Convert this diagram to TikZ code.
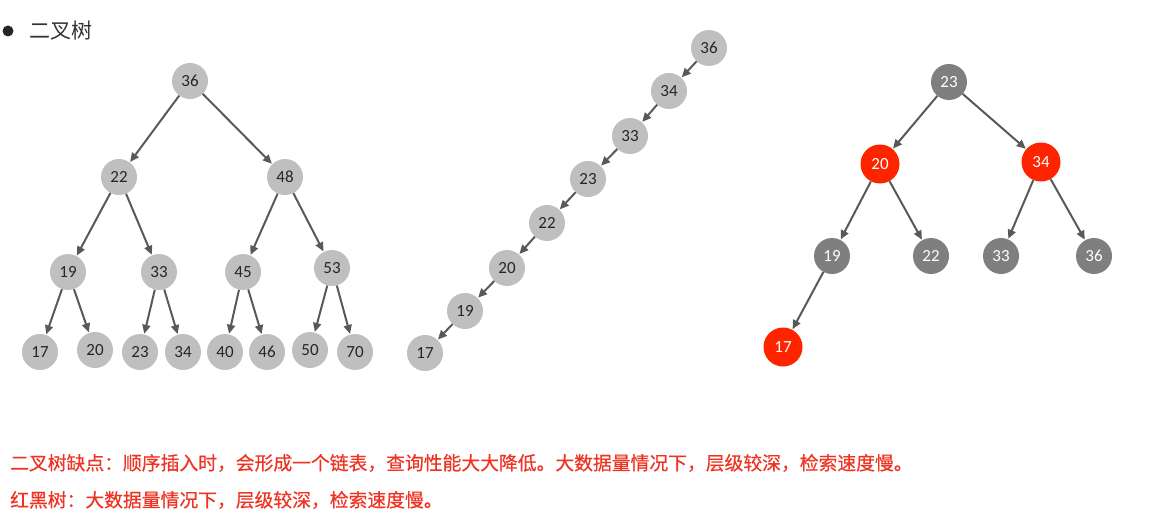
\documentclass[tikz,border=0pt]{standalone}
\usepackage{fontspec}
\setmainfont{Carlito}
\newfontfamily\cjk{Noto Sans CJK SC}
\newfontfamily\cjkb[FakeBold=0.5]{Noto Sans CJK SC}
\usetikzlibrary{arrows.meta}
\definecolor{lgray}{HTML}{BFBFBF}
\definecolor{dgray}{HTML}{7F7F7F}
\definecolor{nred}{HTML}{FF2400}
\definecolor{edgec}{HTML}{595959}
\definecolor{txtred}{HTML}{EE3322}
\definecolor{numc}{HTML}{262626}
\tikzset{
  numfont/.style={font=\fontsize{17}{17}\selectfont},
  lnode/.style={circle, fill=lgray, minimum size=36pt, inner sep=0pt, text=numc, numfont},
  dnode/.style={circle, fill=dgray, minimum size=36pt, inner sep=0pt, text=white, numfont},
  rnode/.style={circle, fill=nred, minimum size=39pt, inner sep=0pt, text=white, numfont},
  edge/.style={draw=edgec, line width=2pt, -{Triangle[length=9pt,width=8pt]}, shorten >=0.5pt},
  redtext/.style={anchor=west, font=\cjkb\fontsize{18.8}{18.8}\selectfont, text=txtred, inner sep=0pt},
}
\begin{document}
\begin{tikzpicture}[x=1pt,y=-1pt]
\useasboundingbox (0,0) rectangle (1149,527);
% header
\fill[black!85] (8,31) circle (5.5);
\node[anchor=west, font=\cjk\fontsize{21}{21}\selectfont, text=black!80, inner sep=0pt] (hdr) at (29,31) {二叉树};
% left tree
\node[lnode] (a36) at (190,81) {36};
\node[lnode] (a22) at (119,177) {22};
\node[lnode] (a48) at (285,177) {48};
\node[lnode] (a19) at (68,272) {19};
\node[lnode] (a33) at (159,272) {33};
\node[lnode] (a45) at (243,272) {45};
\node[lnode] (a53) at (332,268) {53};
\node[lnode] (a17) at (40,352) {17};
\node[lnode] (a20) at (95,350) {20};
\node[lnode] (a23) at (140,352) {23};
\node[lnode] (a34) at (183,352) {34};
\node[lnode] (a40) at (225,352) {40};
\node[lnode] (a46) at (267,352) {46};
\node[lnode] (a50) at (310,350) {50};
\node[lnode] (a70) at (355,352) {70};
\foreach \p/\c in {a36/a22,a36/a48,a22/a19,a22/a33,a48/a45,a48/a53,a19/a17,a19/a20,a33/a23,a33/a34,a45/a40,a45/a46,a53/a50,a53/a70}
  \draw[edge] (\p) -- (\c);
% chain
\node[lnode] (b36) at (709,48) {36};
\node[lnode] (b34) at (669,91) {34};
\node[lnode] (b33) at (630,136) {33};
\node[lnode] (b23) at (588,179) {23};
\node[lnode] (b22) at (547,223) {22};
\node[lnode] (b20) at (507,268) {20};
\node[lnode] (b19) at (465,311) {19};
\node[lnode] (b17) at (425,353) {17};
\foreach \p/\c in {b36/b34,b34/b33,b33/b23,b23/b22,b22/b20,b20/b19,b19/b17}
  \draw[edge] (\p) -- (\c);
% red-black tree
\node[dnode] (c23) at (949,82) {23};
\node[rnode] (c20) at (880,164) {20};
\node[rnode] (c34) at (1041,162) {34};
\node[dnode] (c19) at (832,256) {19};
\node[dnode] (c22) at (931,256) {22};
\node[dnode] (c33) at (1001,256) {33};
\node[dnode] (c36) at (1094,256) {36};
\node[rnode] (c17) at (783,347) {17};
\foreach \p/\c in {c23/c20,c23/c34,c20/c19,c20/c22,c34/c33,c34/c36,c19/c17}
  \draw[edge] (\p) -- (\c);
% bottom text
\node[redtext] (t1) at (10,463) {二叉树缺点：顺序插入时，会形成一个链表，查询性能大大降低。大数据量情况下，层级较深，检索速度慢。};
\node[redtext] (t2) at (10,500) {红黑树：大数据量情况下，层级较深，检索速度慢。};
\end{tikzpicture}
\end{document}
